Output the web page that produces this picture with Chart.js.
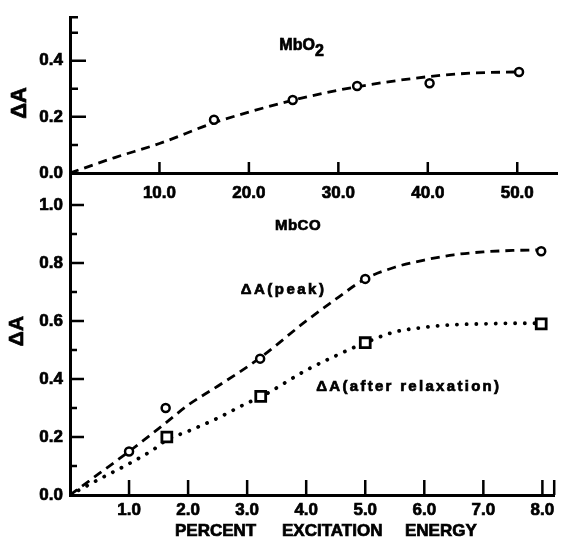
<!DOCTYPE html>
<html>
<head>
<meta charset="utf-8">
<title>Delta A vs percent excitation energy</title>
<script src="https://cdn.jsdelivr.net/npm/chart.js@4"></script>
<style>
  body { margin: 0; background: #fff; }
  .wrap { position: relative; width: 564px; height: 538px; }
  .wrap canvas { position: absolute; left: 0; top: 0; }
</style>
</head>
<body>
<div class="wrap">
  <canvas id="topChart" width="564" height="538"></canvas>
  <canvas id="bottomChart" width="564" height="538"></canvas>
</div>
<script>
// --- MbO2 panel (top) ---
const mbo2Excitation = [16.1, 24.9, 32.1, 40.2, 50.2];
const mbo2DeltaA = [0.19, 0.26, 0.31, 0.32, 0.36];
// hand-drawn dashed curve
const mbo2CurveX = [0, 5, 10, 16, 20, 25, 30, 35, 40, 45, 50];
const mbo2CurveY = [0, 0.055, 0.105, 0.178, 0.217, 0.26, 0.295, 0.322, 0.343, 0.356, 0.36];
const topXTicks = [10, 20, 30, 40, 50];
const topYTicks = [0, 0.2, 0.4];
const topYMinor = [0.1, 0.3, 0.5];

// --- MbCO panel (bottom) ---
const peakExcitation = [1.0, 1.62, 3.22, 5.0, 7.98];
const peakDeltaA = [0.15, 0.30, 0.47, 0.745, 0.84];
const relaxExcitation = [1.64, 3.23, 5.0, 7.98];
const relaxDeltaA = [0.20, 0.34, 0.525, 0.59];
const peakCurveX = [0, 0.5, 1.0, 1.6, 2.0, 2.5, 3.2, 4.0, 4.5, 5.0, 5.5, 6.0, 6.5, 7.0, 7.5, 7.98];
const peakCurveY = [0, 0.075, 0.15, 0.245, 0.31, 0.375, 0.47, 0.60, 0.675, 0.745, 0.785, 0.81, 0.828, 0.838, 0.843, 0.845];
const relaxCurveX = [0, 0.5, 1.0, 1.4, 1.64, 2.0, 2.5, 3.0, 3.23, 4.0, 4.5, 5.0, 5.5, 6.0, 6.5, 7.0, 7.5, 7.98];
const relaxCurveY = [0, 0.055, 0.108, 0.155, 0.19, 0.22, 0.265, 0.317, 0.338, 0.43, 0.48, 0.525, 0.562, 0.578, 0.587, 0.59, 0.592, 0.592];
const bottomXTicks = [1, 2, 3, 4, 5, 6, 7, 8];
const bottomYTicks = [0, 0.2, 0.4, 0.6, 0.8, 1.0];
const bottomYMinor = [0.1, 0.3, 0.5, 0.7, 0.9];

const FONT = "'Liberation Sans', Arial, sans-serif";
const tickFont = { family: FONT, size: 17, weight: 'bold' };

const toPoints = (xs, ys) => xs.map((x, i) => ({ x: x, y: ys[i] }));

// tick marks pointing into the plot, major and minor lengths
function inwardTicks(xGroups, yGroups) {
  return {
    id: 'inwardTicks',
    afterDatasetsDraw(chart) {
      const { ctx, chartArea } = chart;
      const xs = chart.scales.x, ys = chart.scales.y;
      ctx.save();
      ctx.strokeStyle = '#000';
      ctx.lineWidth = 2.5;
      ctx.beginPath();
      xGroups.forEach(g => g.values.forEach(v => {
        const px = xs.getPixelForValue(v);
        ctx.moveTo(px, chartArea.bottom);
        ctx.lineTo(px, chartArea.bottom - g.len);
      }));
      yGroups.forEach(g => g.values.forEach(v => {
        const py = ys.getPixelForValue(v);
        ctx.moveTo(chartArea.left, py);
        ctx.lineTo(chartArea.left + g.len, py);
      }));
      ctx.stroke();
      ctx.restore();
    }
  };
}

// free text: in-plot labels placed by data value, axis titles by pixel
function notes(items) {
  return {
    id: 'notes',
    afterDraw(chart) {
      const ctx = chart.ctx;
      const xs = chart.scales.x, ys = chart.scales.y;
      items.forEach(it => {
        const px = it.at ? xs.getPixelForValue(it.at[0]) : it.pos[0];
        const py = it.at ? ys.getPixelForValue(it.at[1]) : it.pos[1];
        ctx.save();
        ctx.fillStyle = '#000';
        ctx.strokeStyle = '#000';
        ctx.lineWidth = 0.7;
        ctx.font = 'bold ' + it.size + 'px ' + FONT;
        ctx.letterSpacing = (it.spacing || 0) + 'px';
        ctx.textAlign = it.align || 'left';
        ctx.textBaseline = it.baseline || 'alphabetic';
        ctx.translate(px, py);
        if (it.rotate) ctx.rotate(it.rotate);
        ctx.fillText(it.text, 0, 0);
        ctx.strokeText(it.text, 0, 0);
        ctx.restore();
      });
    }
  };
}

function xScale(max, ticks, boxHeight, pad) {
  return {
    type: 'linear', min: 0, max: max,
    grid: { display: false, drawTicks: false },
    border: { display: true, color: '#000', width: 3 },
    afterBuildTicks: s => { s.ticks = ticks.map(v => ({ value: v })); },
    afterFit: s => { s.height = boxHeight; },
    ticks: { color: '#000', font: tickFont, padding: pad, maxRotation: 0, autoSkip: false,
             textStrokeColor: '#000', textStrokeWidth: 0.7,
             callback: v => v.toFixed(1) }
  };
}

function yScale(max, ticks) {
  return {
    type: 'linear', min: 0, max: max,
    grid: { display: false, drawTicks: false },
    border: { display: true, color: '#000', width: 3 },
    afterBuildTicks: s => { s.ticks = ticks.map(v => ({ value: v })); },
    afterFit: s => { s.width = 70; },
    ticks: { color: '#000', font: tickFont, padding: 7,
             textStrokeColor: '#000', textStrokeWidth: 0.7,
             callback: v => v.toFixed(1) }
  };
}

const dashed = { showLine: true, borderColor: '#000', borderWidth: 2.8, borderDash: [9, 6],
                 pointRadius: 0, cubicInterpolationMode: 'monotone', order: 2 };
const dotted = { showLine: true, borderColor: '#000', borderWidth: 3.8, borderDash: [0.1, 9.6],
                 borderCapStyle: 'round', pointRadius: 0, cubicInterpolationMode: 'monotone', order: 2 };
const circles = { pointStyle: 'circle', pointRadius: 4, borderWidth: 2.5, borderColor: '#000',
                  backgroundColor: '#fff', order: 1 };
const squares = { pointStyle: 'rect', pointRadius: 7, borderWidth: 2.8, borderColor: '#000',
                  backgroundColor: '#fff', order: 1 };

const common = {
  responsive: false,
  animation: false,
  devicePixelRatio: 1,
  events: []
};

new Chart(document.getElementById('topChart'), {
  type: 'scatter',
  data: {
    datasets: [
      Object.assign({ data: toPoints(mbo2CurveX, mbo2CurveY) }, dashed),
      Object.assign({ data: toPoints(mbo2Excitation, mbo2DeltaA) }, circles)
    ]
  },
  options: Object.assign({}, common, {
    layout: { padding: { top: 13, right: 3, left: 0, bottom: 0 } },
    plugins: { legend: { display: false }, tooltip: { enabled: false } },
    scales: {
      x: xScale(54.5, topXTicks, 538 - 173, 10),
      y: yScale(0.555, topYTicks)
    }
  }),
  plugins: [
    inwardTicks(
      [{ values: topXTicks, len: 11 }],
      [{ values: topYTicks.slice(1), len: 16 }, { values: topYMinor.concat([0.555]), len: 8 }]
    ),
    notes([
      { text: 'MbO', at: [23.4, 0.438], size: 16 },
      { text: '2', at: [27.4, 0.418], size: 16 },
      { text: '\u0394A', pos: [20, 103], size: 22, align: 'center', baseline: 'middle', rotate: -Math.PI / 2 }
    ])
  ]
});

new Chart(document.getElementById('bottomChart'), {
  type: 'scatter',
  data: {
    datasets: [
      Object.assign({ data: toPoints(peakCurveX, peakCurveY) }, dashed),
      Object.assign({ data: toPoints(relaxCurveX, relaxCurveY) }, dotted),
      Object.assign({ data: toPoints(peakExcitation, peakDeltaA) }, circles),
      Object.assign({ data: toPoints(relaxExcitation, relaxDeltaA) }, squares)
    ]
  },
  options: Object.assign({}, common, {
    layout: { padding: { top: 173, right: 3, left: 0, bottom: 0 } },
    plugins: { legend: { display: false }, tooltip: { enabled: false } },
    scales: {
      x: xScale(8.2, bottomXTicks, 538 - 495, 5),
      y: yScale(1.11, bottomYTicks)
    }
  }),
  plugins: [
    inwardTicks(
      [{ values: bottomXTicks.concat([8.2]), len: 15 }],
      [{ values: bottomYTicks.slice(1), len: 14 }, { values: bottomYMinor, len: 7 }]
    ),
    notes([
      { text: 'MbCO', at: [3.47, 0.914], size: 15, spacing: 0.5 },
      { text: '\u0394A(peak)', at: [2.89, 0.693], size: 15, spacing: 2.5 },
      { text: '\u0394A(after relaxation)', at: [4.17, 0.359], size: 15, spacing: 2.3 },
      { text: '\u0394A', pos: [17, 331], size: 21, align: 'center', baseline: 'middle', rotate: -Math.PI / 2 },
      { text: 'PERCENT', pos: [175, 536], size: 17 },
      { text: 'EXCITATION', pos: [282, 536], size: 17 },
      { text: 'ENERGY', pos: [405, 536], size: 17 }
    ])
  ]
});
</script>
</body>
</html>
